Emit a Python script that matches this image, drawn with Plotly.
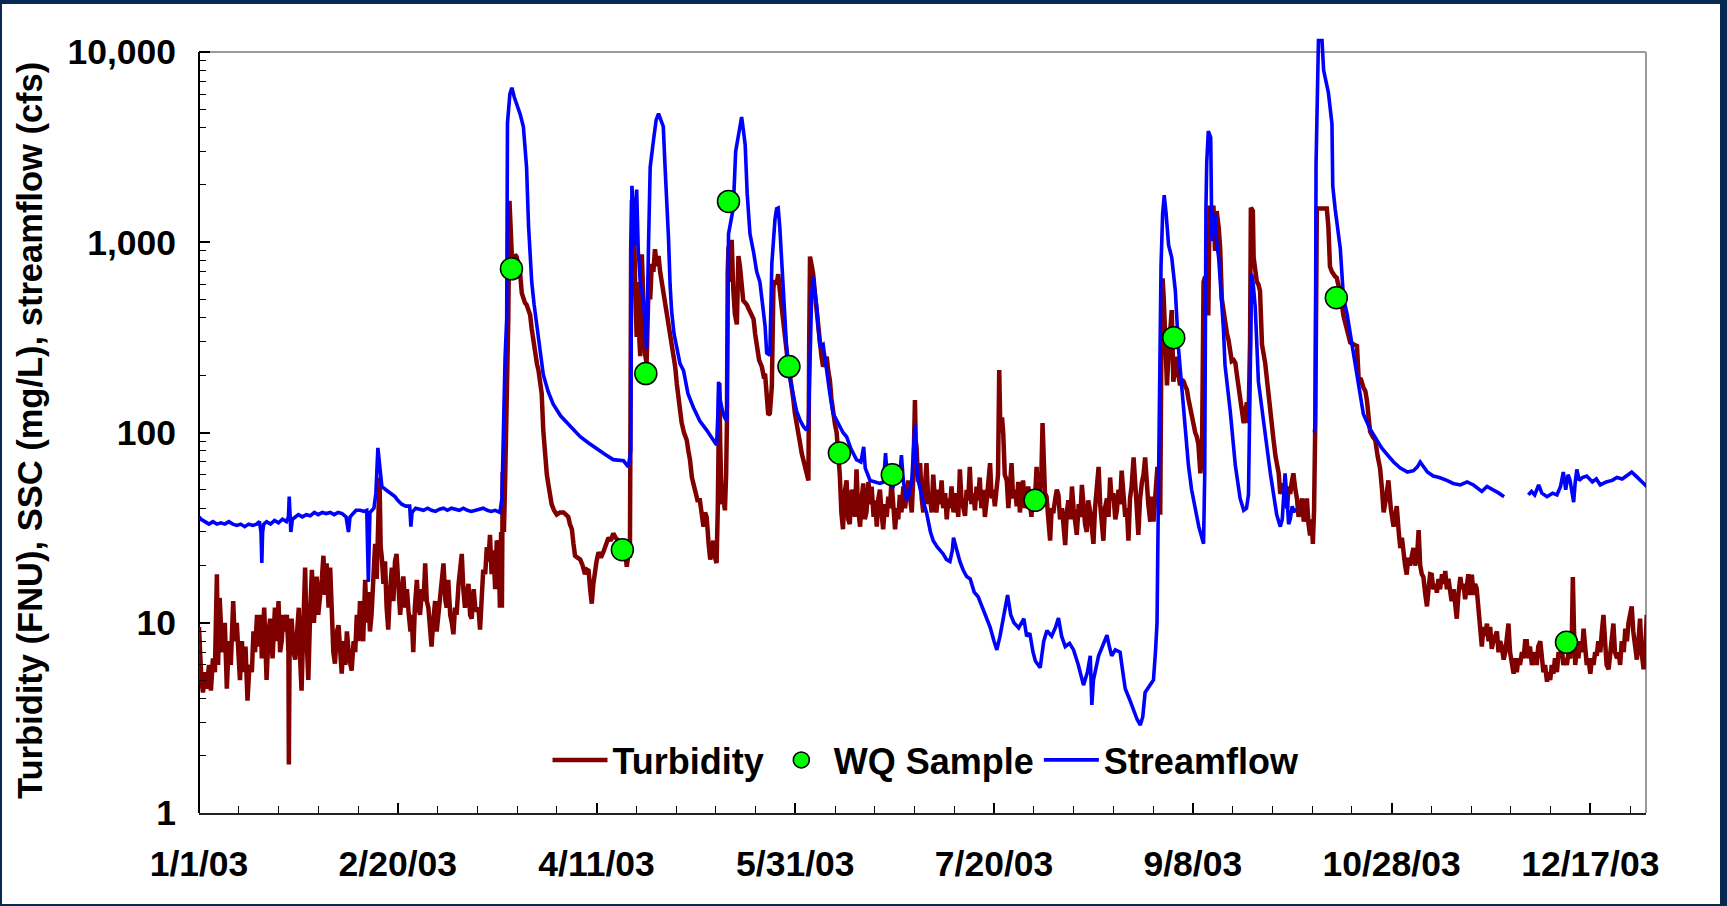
import pandas as pd
import plotly.graph_objects as go

# ---------------- data (day of year offset from 1/1/03, value) ----------------
turbidity = [
 (0.0,9.5),(0.3,6.5),(0.6,5.0),(1.0,4.3),(1.5,5.5),(2.0,4.5),(2.5,6.0),(3.0,4.4),(3.5,6.5),(4.0,5.5),
 (4.5,18),(4.8,6),(5.2,13.5),(5.6,9),(6.0,7),(6.5,10),(7.0,4.5),(7.5,8),(8.0,6),(8.6,13),
 (9.0,8),(9.5,10),(10.0,6),(10.3,5),(10.8,8),(11.2,5.5),(11.7,7.5),(12.2,3.9),(12.7,6),(13.3,5.5),
 (13.7,9),(14.1,7),(14.6,11),(15.0,7.5),(15.5,11),(15.8,6.5),(16.4,12),(17.0,5),(17.5,9),(17.9,10.5),
 (18.5,6.5),(19.1,12),(19.6,8),(20.0,13),(20.4,7),(20.8,8),(21.2,11),(21.6,9),(22.1,11),(22.5,7),
 (22.6,1.8),(22.8,8),(23.3,10.5),(23.8,7),(24.2,6.4),(24.7,10),(25.1,12),(25.5,6),(25.8,4.4),(26.2,9),
 (26.7,19.5),(27.1,8),(27.5,5),(28.0,12),(28.4,19),(28.9,10),(29.3,15),(29.6,17.5),(30.0,11),(30.4,13),
 (30.9,17),(31.3,22.5),(31.7,14),(32.1,20.5),(32.6,12),(33.0,19.5),(33.4,9),(33.8,7),(34.2,6.1),(34.7,9),
 (35.1,9.7),(35.5,6.5),(35.9,5.4),(36.4,8),(36.8,6),(37.2,9),(37.8,6.5),(38.4,5.6),(38.9,8),(39.3,7),
 (39.7,11),(40.1,8),(40.5,13),(40.9,9),(41.3,8),(41.8,16.8),(42.2,10),(42.6,14.5),(43.0,9),(43.4,11),
 (43.9,18),(44.3,26),(44.7,17),(45.1,35),(45.4,58),(45.7,25),(46.0,22),(46.4,16),(46.8,21),(47.2,12),
 (47.6,9.2),(48.0,14),(48.5,19.5),(48.9,13),(49.3,21),(49.7,23),(50.2,15),(50.6,11),(51.0,14),(51.4,17.5),
 (51.9,12),(52.3,15),(52.7,11.5),(53.2,9),(53.5,11),(53.9,7),(54.3,12),(54.8,16.8),(55.2,12),(55.6,11),
 (56.1,15),(56.5,13),(56.9,20.5),(57.3,13),(57.7,12),(58.1,9),(58.5,7.5),(58.9,10),(59.4,13),(59.8,9),
 (60.2,11),(60.7,14),(61.1,17),(61.5,20.5),(62.0,13),(62.3,12),(62.7,16.8),(63.2,11),(63.6,10),(64.0,8.7),
 (64.4,12),(64.8,11),(65.3,16),(65.7,19),(66.1,23),(66.5,15),(66.9,12),(67.3,14),(67.8,16),(68.2,11),
 (68.6,10.5),(69.1,15),(69.5,12),(69.9,11.5),(70.3,12),(70.7,9.2),(71.1,14),(71.5,19),(72.0,18),(72.4,25),
 (72.8,21),(73.2,29),(73.6,18),(74.1,24),(74.5,15),(74.9,27),(75.3,26),(75.5,16),(75.7,12),(76.0,30),
 (76.2,12),(76.4,62),(76.7,30),(77.0,55),(77.4,120),(77.8,395),(78.1,1650),(78.4,1200),(78.7,850),(79.1,800),
 (79.5,860),(79.9,840),(80.3,760),(80.8,680),(81.2,540),(81.6,500),(82.0,480),(82.4,470),(82.9,440),(83.3,415),
 (83.7,350),(84.1,302),(84.6,260),(85.0,230),(85.4,212),(85.8,190),(86.2,161),(86.6,103),(87.1,72),(87.5,60),
 (87.9,53),(88.3,46),(88.7,42),(89.3,39),(90.0,37),(90.8,38),(91.7,38),(92.3,37),(92.9,36),(93.3,33),
 (93.8,31),(94.2,26),(94.6,22.5),(95.2,22),(95.9,21.5),(96.5,20),(97.1,18),(97.6,19),(98.0,18.8),(98.4,15),
 (98.8,12.6),(99.2,16),(99.6,18.8),(100.0,21),(100.5,23.5),(101.1,22),(101.7,23.5),(102.3,26),(103.0,28),(103.6,27),
 (104.2,29.5),(104.8,28),(105.5,27),(106.2,24),(106.8,21.5),(107.2,24),(107.6,19.7),(108.0,22.5),(108.4,22.5),(108.7,900),
 (108.9,1650),(109.3,1700),(109.5,700),(109.7,618),(110.1,318),(110.5,618),(110.8,300),(111.0,252),(111.4,865),(111.8,395),
 (112.2,260),(112.6,230),(113.1,618),(113.5,500),(113.9,770),(114.3,700),(114.7,920),(115.2,750),(115.6,846),(116.0,700),
 (116.4,618),(116.8,560),(117.2,494),(117.7,430),(118.1,395),(118.5,340),(118.9,302),(119.3,260),(119.8,221),(120.2,180),
 (120.6,148),(121.0,130),(121.4,113),(122.0,100),(122.7,91),(123.1,80),(123.5,72),(124.0,58),(124.4,54),(124.8,50),
 (125.4,44),(126.0,44),(126.5,36),(126.9,32),(127.3,38),(127.7,36),(128.2,26),(128.6,21.5),(129.0,24),(129.4,27),
 (129.8,22),(130.2,20.6),(130.5,40),(130.7,103),(130.9,182),(131.1,90),(131.5,42),(131.9,45),(132.3,39),(132.6,60),
 (132.8,113),(133.0,700),(133.2,950),(133.6,618),(134.0,1030),(134.4,565),(134.8,420),(135.3,370),(135.7,846),(136.1,740),
 (136.5,560),(136.9,494),(137.4,480),(137.8,470),(138.2,450),(138.6,432),(139.0,420),(139.5,395),(139.9,330),(140.3,290),
 (140.9,240),(141.6,221),(142.0,200),(142.4,203),(142.8,160),(143.2,124),(143.6,126),(144.1,175),(144.5,580),(144.9,631),
 (145.3,600),(145.7,680),(146.1,560),(146.5,460),(146.9,380),(147.4,320),(147.8,270),(148.2,231),(148.7,200),(149.1,172),
 (149.5,150),(149.9,126),(150.3,110),(150.7,100),(151.2,88),(151.6,78),(152.0,72),(152.4,66),(152.8,60),(153.3,56),
 (153.5,300),(153.7,841),(154.1,760),(154.5,680),(155.0,520),(155.4,425),(155.8,350),(156.2,295),(156.6,250),(157.0,222),
 (157.5,240),(157.9,250),(158.3,210),(158.7,188),(159.1,150),(159.5,126),(160.0,110),(160.4,100),(160.8,80),(161.2,60),
 (161.6,37.7),(162.0,31),(162.4,48),(162.9,56),(163.3,35),(163.7,33),(164.2,50),(164.6,47),(165.0,36),(165.4,64),
 (165.8,40),(166.3,32),(166.7,45),(167.1,54),(167.5,35),(167.9,38),(168.4,55),(168.8,42),(169.2,52),(169.7,36),
 (170.1,44),(170.5,32),(170.9,45),(171.3,50),(171.7,38),(172.1,31),(172.6,42),(173.0,36),(173.4,46),(173.8,40),
 (174.2,56),(174.6,42),(175.1,31),(175.5,40),(175.9,35),(176.3,47),(176.7,38),(177.2,52),(177.6,40),(178.0,48),
 (178.4,56),(178.9,45),(179.3,38),(179.7,60),(180.1,148),(180.3,90),(180.5,84),(180.9,55),(181.4,69),(181.8,45),
 (182.2,38),(182.6,52),(183.0,69),(183.5,42),(183.9,46),(184.3,38),(184.7,60),(185.1,45),(185.5,38),(186.0,50),
 (186.4,42),(186.8,56),(187.2,40),(187.7,48),(188.1,35),(188.5,45),(188.9,40),(189.3,52),(189.8,38),(190.2,48),
 (190.6,44),(191.0,36),(191.4,64),(191.8,45),(192.3,40),(192.7,36.5),(193.1,50),(193.5,44),(193.9,66),(194.3,42),
 (194.8,48),(195.2,39),(195.6,52),(196.0,44),(196.4,58),(196.8,40),(197.3,50),(197.7,36),(198.1,43),(198.5,55),
 (199.0,69),(199.4,45),(199.8,50),(200.2,41),(200.6,48),(201.0,60),(201.3,213),(201.6,100),(202.0,120),(202.3,100),
 (202.7,60),(203.2,56),(203.6,40),(204.0,52),(204.4,69),(204.8,45),(205.3,50),(205.7,41),(206.1,55),(206.5,38),
 (206.9,48),(207.3,56),(207.8,40),(208.2,45),(208.6,52),(209.0,44),(209.4,36),(209.8,50),(210.3,45),(210.7,66),
 (211.1,42),(211.5,48),(211.9,60),(212.2,112),(212.4,70),(212.8,48),(213.2,46),(213.7,35),(214.1,27),(214.5,40),
 (214.9,37.7),(215.4,45),(215.8,50),(216.2,47),(216.6,35),(217.1,40),(217.5,30),(217.9,25.6),(218.3,38),(218.7,44),
 (219.2,35),(219.6,52),(220.0,40),(220.4,33),(220.8,29),(221.3,42),(221.7,36),(222.1,53),(222.5,40),(222.9,33),
 (223.3,30),(223.7,44),(224.2,38),(224.6,30),(225.0,26),(225.4,40),(225.9,50),(226.3,66),(226.7,42),(227.1,33),
 (227.5,27),(227.9,40),(228.4,45),(228.8,36),(229.2,58),(229.6,44),(230.0,48),(230.5,35),(230.9,39),(231.3,50),
 (231.7,42),(232.1,63),(232.5,45),(233.0,36),(233.4,40),(233.8,27),(234.2,45),(234.6,52),(235.1,74),(235.5,48),
 (235.9,40),(236.3,29),(236.7,44),(237.2,55),(237.6,60),(238.0,74),(238.4,48),(238.8,42),(239.3,34),(239.7,46),
 (240.1,34),(240.5,50),(240.9,58),(241.1,66),(241.5,45),(241.8,37),(242.1,300),(242.4,646),(242.7,500),(243.0,330),
 (243.3,220),(243.5,177),(243.9,260),(244.3,360),(244.7,440),(245.1,185),(245.6,230),(246.0,250),(246.4,200),(246.8,177),
 (247.3,190),(247.7,185),(248.1,175),(248.5,168),(248.9,150),(249.3,137),(249.8,120),(250.2,106),(250.6,100),(251.0,95),
 (251.4,87),(251.9,61),(252.3,76),(252.7,620),(253.1,660),(253.5,646),(253.9,412),(254.2,1518),(254.8,1518),(255.2,1518),
 (255.6,900),(256.0,1460),(256.5,1200),(256.9,918),(257.3,503),(257.7,440),(258.1,372),(258.6,330),(259.0,305),(259.4,260),
 (259.8,237),(260.3,240),(260.7,232),(261.1,200),(261.5,177),(261.9,150),(262.3,137),(262.8,112),(263.2,130),(263.6,144),
 (264.0,112),(264.4,300),(264.6,1518),(265.1,1460),(265.3,832),(265.7,700),(266.1,620),(266.5,600),(266.9,556),(267.4,290),
 (267.8,260),(268.2,232),(268.9,170),(269.5,124),(269.9,105),(270.3,91.5),(270.8,75),(271.2,65),(271.6,61),(272.0,47.6),
 (272.4,52),(272.8,54),(273.2,45),(273.7,40),(274.1,52),(274.5,47.6),(274.9,55),(275.3,61),(275.8,50),(276.2,45),
 (276.6,36),(277.0,39),(277.5,45),(277.9,34),(278.3,40),(278.7,45),(279.1,33),(279.5,28.8),(279.9,35),(280.2,26),
 (280.5,39),(280.8,110),(281.2,1503),(281.8,1503),(282.5,1503),(283.2,1503),(283.7,1503),(284.1,1211),(284.5,745),(285.0,700),
 (285.4,669),(285.8,660),(286.2,650),(287.0,550),(287.9,411),(288.7,350),(289.6,297),(290.5,290),(291.3,285),(291.7,194),
 (292.3,190),(292.9,173),(293.4,165),(293.8,147),(294.2,120),(294.6,101),(295.3,95),(295.9,91),(296.5,75),(297.1,65),
 (297.6,50),(298.0,38),(298.6,45),(299.2,56),(299.8,40),(300.5,32),(300.9,36),(301.3,41),(301.8,30),(302.2,24.7),
 (302.6,28),(303.0,22),(303.4,20),(303.8,17.9),(304.2,22),(304.6,20),(305.1,23),(305.5,24.7),(305.9,20),(306.4,22),
 (306.8,30.7),(307.2,20),(307.6,18),(308.0,17.4),(308.5,14),(308.9,12.2),(309.3,15),(309.7,18),(310.1,17.9),(310.5,15),
 (311.0,16),(311.4,14.4),(311.8,17),(312.2,15),(312.7,18),(313.1,16),(313.5,18.7),(313.9,15),(314.3,17),(314.7,14.4),
 (315.1,13),(315.6,15),(316.0,12),(316.4,10.5),(316.8,14),(317.3,17.4),(317.7,15),(318.1,16),(318.5,13.3),(318.9,16),
 (319.3,18),(319.8,14),(320.2,17.9),(320.6,14),(321.0,16),(321.4,15.2),(321.8,12),(322.3,9),(322.7,7.5),(323.1,9.5),
 (323.5,8.5),(324.0,9.9),(324.4,8),(324.8,9.5),(325.2,7.3),(325.6,8),(326.1,8.5),(326.5,9),(326.9,7),(327.3,8),
 (327.7,7.5),(328.2,6.4),(328.6,7),(329.0,8.5),(329.4,9.9),(329.8,7),(330.3,6),(330.7,5.4),(331.1,6.5),(331.5,5.5),
 (331.9,6.5),(332.3,6),(332.8,7),(333.2,6.5),(333.6,8),(334.0,8),(334.4,6.5),(334.8,7.5),(335.3,6),(335.7,6.7),
 (336.1,7),(336.5,6),(336.9,7.5),(337.4,8),(337.8,6.5),(338.2,5.5),(338.6,6),(339.1,4.9),(339.5,5.5),(339.9,5),
 (340.3,6),(340.7,5.4),(341.1,6.5),(341.6,5.5),(342.0,7),(342.4,6.7),(342.8,7.5),(343.2,6),(343.6,6.5),(344.1,6),
 (344.5,7),(344.9,6.5),(345.3,7.5),(345.6,17.4),(345.9,9),(346.2,6),(346.6,7.4),(347.0,6.5),(347.4,8),(347.9,7),
 (348.3,9.3),(348.7,7),(349.1,6),(349.5,6.5),(350.0,5.4),(350.4,6.5),(350.8,6),(351.2,7),(351.6,6.7),(352.0,8),
 (352.5,7),(352.9,9),(353.3,11),(353.7,8),(354.1,6),(354.6,5.7),(355.0,7),(355.4,8),(355.8,9.9),(356.2,7),
 (356.7,6.5),(357.1,7),(357.5,6),(357.9,8),(358.4,7),(358.8,9.3),(359.2,8),(359.6,10),(360.0,11),(360.4,12.2),
 (360.8,9),(361.3,7),(361.7,6.4),(362.1,8),(362.5,10.5),(362.9,7),(363.4,5.7),(363.8,7),(364.2,11),(364.5,9),
]

streamflow = [
 (0.0,36),(0.5,35),(1.5,34),(2.5,33),(3.5,34),(4.5,33),(5.5,33.5),(6.5,33),(7.5,34),(8.5,33),
 (9.5,32.5),(10.5,33),(11.5,32),(12.5,33),(13.5,32.5),(14.5,33),(15.2,34),(15.6,30),(15.8,20.6),(16.0,30),
 (16.3,33),(17.0,34),(18.0,33),(19.0,34.5),(20.0,33.5),(21.0,35),(22.0,34),(22.5,36),(22.7,46),(22.9,40),
 (23.1,30),(23.5,35),(24.2,36),(25.0,37),(26.0,36),(27.0,37),(28.0,36.5),(29.0,38),(30.0,37),(31.0,38),
 (32.0,37.5),(33.0,38),(34.0,37),(35.0,38),(36.0,37.5),(37.0,36),(37.6,30),(38.0,36),(39.0,38),(39.5,39),
 (40.5,39),(41.5,38.5),(42.2,39),(42.4,25),(42.6,16.4),(42.8,25),(43.0,38),(44.0,40),(44.5,48),(45.0,83),
 (45.3,70),(45.7,55),(46.0,52),(47.0,50),(48.0,48),(49.3,46),(50.0,44),(51.0,42),(52.0,41),(53.0,41),
 (53.3,32),(53.6,38),(54.5,40),(55.5,39.5),(56.5,39),(57.5,40),(58.5,39),(59.5,38.5),(60.5,39.5),(61.5,40),
 (62.5,39),(63.5,40),(64.5,39.5),(65.5,39),(66.5,40),(67.5,39),(68.5,38.5),(69.5,39),(70.5,39.5),(71.5,40),
 (72.5,39),(73.5,38.5),(74.5,39),(75.7,38),(76.2,45),(76.6,113),(77.0,250),(77.4,395),(77.6,4235),(78.2,6000),
 (78.7,6490),(79.3,5800),(79.9,5330),(80.8,4700),(81.6,4050),(82.0,3000),(82.4,2480),(82.9,1217),(83.3,800),(83.7,618),
 (84.3,470),(85.0,363),(85.8,260),(86.6,202),(87.8,165),(89.1,141),(91.0,122),(93.3,108),(95.9,95),(98.0,88),
 (100.0,82),(102.0,77),(104.2,72),(106.8,71),(108.0,66),(108.6,80),(108.9,1980),(109.3,1500),(109.7,968),(110.1,1890),
 (110.5,900),(111.0,618),(111.8,494),(112.6,276),(113.1,1015),(113.5,2480),(114.3,3400),(115.0,4400),(115.6,4740),(116.2,4400),
 (116.8,4050),(117.2,2590),(117.6,1800),(118.1,1058),(118.5,600),(118.9,432),(119.5,330),(120.2,276),(121.0,230),(121.9,211),
 (123.0,160),(124.4,135),(126.0,115),(127.7,103),(129.0,93),(130.2,86),(130.5,120),(130.7,185),(131.1,150),(131.5,135),
 (132.2,120),(132.8,115),(133.2,1107),(133.8,1300),(134.4,1510),(135.0,3000),(135.7,3700),(136.1,4300),(136.5,4550),(137.0,3800),
 (137.4,3240),(137.9,1800),(138.6,1107),(139.5,888),(140.3,700),(141.1,618),(141.8,450),(142.4,363),(142.8,262),(143.6,255),
 (144.1,773),(144.5,1100),(144.9,1325),(145.3,1500),(145.7,1514),(146.1,1200),(146.5,878),(147.0,600),(147.4,425),(147.8,282),
 (148.5,200),(149.5,161),(150.3,130),(151.2,116),(152.0,108),(152.8,103),(153.3,110),(153.7,232),(154.1,517),(154.5,659),
 (155.0,550),(155.4,458),(155.8,350),(156.2,282),(157.0,290),(157.5,240),(157.9,205),(158.7,160),(159.5,126),(160.4,115),
 (161.2,107),(162.0,100),(162.9,95),(164.0,82),(165.4,72),(166.5,70),(167.2,84),(167.6,65),(168.8,56),(170.0,55),
 (171.3,54),(172.2,55),(172.7,78),(173.2,56),(174.0,54),(174.6,52),(175.5,58),(176.3,60),(176.7,76),(177.2,55),
 (178.0,44),(178.7,48),(179.3,56),(179.8,80),(180.1,110),(180.5,70),(180.9,56),(182.0,45),(183.0,38),(184.0,30),
 (184.7,27),(185.7,25),(187.2,23),(188.0,21.5),(188.9,21),(189.5,24),(189.8,28),(190.2,26),(191.0,22),(191.4,21),
 (192.2,19),(193.1,17.5),(194.0,17),(195.0,14.5),(196.0,13.7),(197.0,12),(197.9,10.8),(199.0,9.5),(200.0,8),(200.7,7.2),
 (201.5,8.5),(202.5,11),(203.4,14),(204.2,11),(205.0,10),(206.2,9.4),(207.5,10.5),(208.2,8.5),(209.0,8.8),(209.8,7),
 (210.4,6.3),(211.6,5.8),(212.5,8),(213.3,9.1),(214.5,8.5),(215.5,9.5),(216.2,10.6),(217.0,8.5),(217.9,7.5),(219.0,7.8),
 (220.0,7.2),(221.2,6),(222.5,4.7),(223.5,5.5),(224.2,6.7),(224.6,3.7),(225.0,5),(226.3,6.7),(227.3,7.5),(228.4,8.6),
 (229.0,7.5),(229.6,6.7),(230.5,7.2),(231.7,7.0),(232.4,5.5),(233.0,4.5),(234.0,4),(235.1,3.5),(236.0,3.1),(236.8,2.9),
 (237.4,3.2),(238.0,4.3),(239.0,4.6),(240.1,5.0),(240.6,7),(241.0,10),(241.4,61),(241.8,500),(242.0,750),(242.4,1400),
 (242.8,1770),(243.3,1400),(243.9,968),(244.7,830),(245.6,556),(246.4,275),(247.0,190),(247.7,130),(248.9,67),(249.7,50),
 (250.6,41),(251.5,32),(252.7,26),(253.0,61),(253.3,1500),(253.5,2630),(253.9,3840),(254.5,3550),(254.8,1015),(255.2,1300),
 (255.6,1400),(256.0,1000),(256.5,830),(257.3,503),(257.7,350),(258.1,226),(259.4,130),(260.7,67),(261.9,45),(262.8,39),
 (263.5,40),(264.0,47),(264.4,167),(264.8,680),(265.2,600),(265.7,457),(266.5,185),(267.8,112),(269.5,61),(271.1,37),
 (272.0,32),(272.5,35),(272.9,55),(273.2,61),(273.7,45),(274.1,33),(274.5,35),(275.0,41),(275.4,38),(275.8,40),
 (278.0,None),
 (280.6,100),(280.8,112),(281.0,2580),(281.2,5200),(281.6,11500),(282.5,11500),(282.9,8040),(283.5,7000),(284.1,6120),(285.0,4200),
 (285.2,1976),(285.8,1500),(286.2,1277),(287.1,925),(287.9,509),(288.8,420),(289.6,331),(290.5,250),(291.3,194),(292.1,150),
 (292.9,125),(294.5,105),(296.3,91),(297.5,83),(298.8,77),(300.5,70),(302.2,65),(304.0,62),(305.5,63),(306.5,66),
 (307.2,70),(308.0,66),(309.0,62),(310.5,59),(312.0,58),(313.9,56),(315.5,54),(317.3,53),(319.0,55),(320.6,53),
 (321.5,51),(322.7,49),(324.0,52),(325.6,50),(327.0,48),(328.3,46),
 (331.0,None),
 (334.4,47),(335.2,49),(336.0,47),(337.0,53),(337.8,48),(339.1,46),(340.5,48),(341.6,47),(342.5,52),(343.2,62),
 (343.8,50),(344.4,60),(344.9,56),(345.4,48),(345.8,43),(346.2,55),(346.6,64),(347.2,56),(348.0,58),(349.1,59),
 (350.5,55),(351.5,57),(352.5,53),(354.0,55),(355.5,56),(356.7,58),(358.0,57),(359.5,60),(360.4,62),(361.5,59),
 (362.5,56),(363.5,54),(364.6,51),
]

wq_day = [78.6, 106.5, 112.4, 133.2, 148.4, 161.1, 174.4, 210.3, 245.2, 286.1, 344.0]
wq_val = [725, 24.2, 204, 1640, 222, 78, 60, 44, 315, 511, 7.9]

y_tick_vals = [1, 10, 100, 1000, 10000]
y_tick_text = ["1", "10", "100", "1,000", "10,000"]

# ---------------- helpers ----------------
START = pd.Timestamp("2003-01-01")
def to_dates(days):
    return [START + pd.Timedelta(days=d) for d in days]

FONT = "Liberation Sans, Arial, sans-serif"
NAVY = "#082a52"

# plot-area pixel geometry
W, H = 1727, 906
L, R, T, B = 199, 81, 36, 93
PW, PH = W - L - R, H - T - B
PX_PER_DEC = 190.25
Y_TOP = 4 + (52 - T) / PX_PER_DEC

def px_x(p):
    return (p - L) / PW
def px_y(p):
    return (H - B - p) / PH

fig = go.Figure()

fig.add_trace(go.Scatter(
    x=to_dates([d for d, _ in turbidity]), y=[v for _, v in turbidity],
    mode="lines", name="Turbidity", line=dict(color="#800000", width=4.5),
    legendrank=1))

fig.add_trace(go.Scatter(
    x=to_dates([d for d, _ in streamflow]), y=[v for _, v in streamflow],
    mode="lines", name="Streamflow", line=dict(color="#0000ff", width=3.6),
    connectgaps=False, legendrank=3))

fig.add_trace(go.Scatter(
    x=to_dates(wq_day), y=wq_val, mode="markers", name="WQ Sample",
    marker=dict(color="#00ff00", size=22, line=dict(color="black", width=1.5)),
    legendrank=2))

top_frac = 4 / Y_TOP
shapes = [
    dict(type="rect", xref="paper", yref="paper", x0=px_x(2), x1=px_x(1720), y0=px_y(904), y1=px_y(4),
         fillcolor="white", line=dict(width=0), layer="below"),
    dict(type="line", xref="paper", yref="paper", x0=0, x1=1, y0=top_frac, y1=top_frac,
         line=dict(color="#9a9a9a", width=2), layer="below"),
    dict(type="line", xref="paper", yref="paper", x0=1, x1=1, y0=0, y1=top_frac,
         line=dict(color="#9a9a9a", width=2), layer="below"),
    dict(type="line", xref="paper", yref="paper", x0=0, x1=0, y0=0, y1=top_frac,
         line=dict(color="black", width=2), layer="below"),
]

minor_y = [m * 10 ** e for e in range(0, 4) for m in range(2, 10)]

TICK_SIZE = 35.5

fig.update_layout(
    width=W, height=H,
    margin=dict(l=L, r=R, t=T, b=B, pad=0),
    paper_bgcolor=NAVY, plot_bgcolor="white",
    shapes=shapes,
    showlegend=True,
    legend=dict(orientation="h", x=px_x(926), xanchor="center", y=px_y(760), yanchor="middle",
                font=dict(family=FONT, size=36, color="black", weight="bold"),
                bgcolor="rgba(0,0,0,0)", itemwidth=55, traceorder="normal"),
    xaxis=dict(
        type="date", range=[START, START + pd.Timedelta(days=364)],
        tickmode="linear", tick0=START, dtick=50 * 86400000, tickformat="%-m/%-d/%y",
        ticks="inside", ticklen=10, tickwidth=1.5, tickcolor="black",
        minor=dict(tick0=START, dtick=10 * 86400000, ticks="inside", ticklen=7, tickwidth=1.2,
                   tickcolor="black", showgrid=False),
        showline=True, linecolor="#222", linewidth=2, mirror=False,
        showgrid=False, zeroline=False,
        tickfont=dict(family=FONT, size=TICK_SIZE, color="black", weight="bold"),
        ticklabelstandoff=18,
    ),
    yaxis=dict(
        type="log", range=[0, Y_TOP],
        tickmode="array", tickvals=y_tick_vals, ticktext=y_tick_text,
        ticks="inside", ticklen=11, tickwidth=1.5, tickcolor="black",
        minor=dict(tickmode="array", tickvals=minor_y, ticks="inside", ticklen=7, tickwidth=1.2,
                   tickcolor="black", showgrid=False),
        showline=False, showgrid=False, zeroline=False,
        tickfont=dict(family=FONT, size=TICK_SIZE, color="black", weight="bold"),
        ticklabelstandoff=22,
    ),
    annotations=[dict(
        text="Turbidity (FNU), SSC (mg/L), streamflow (cfs)",
        xref="paper", yref="paper", x=px_x(30), y=px_y(431),
        xanchor="center", yanchor="middle", textangle=-90, showarrow=False,
        font=dict(family=FONT, size=34.5, color="black", weight="bold"))],
)

fig.write_html("out.html")
